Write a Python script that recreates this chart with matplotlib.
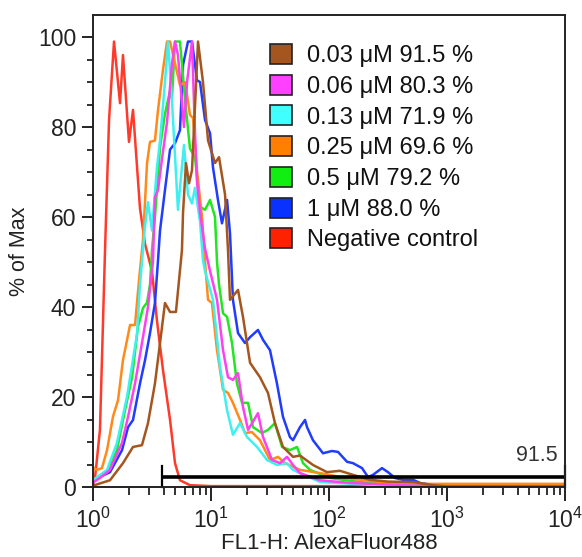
import numpy as np
import matplotlib
matplotlib.use("Agg")
import matplotlib.pyplot as plt
from matplotlib.patches import Patch
from matplotlib.ticker import LogLocator, MultipleLocator

plt.rcParams["font.family"] = ["Liberation Sans", "DejaVu Sans"]
plt.rcParams["mathtext.default"] = "regular"

# histogram traces: x in decades (log10 of FL1-H), y in % of max
red_x = [0.0, 0.017, 0.059, 0.102, 0.136, 0.178, 0.229, 0.254, 0.305, 0.339, 0.398,
         0.441, 0.500, 0.542, 0.593, 0.653, 0.695, 0.737, 0.822, 1.0, 4.0]
red_y = [0.5, 2, 12.7, 52.7, 81.6, 99, 85.3, 96, 76.7, 83.8, 62,
         54, 48, 37, 26, 14.9, 5.3, 1.5, 0.4, 0.2, 0.2]

blue_x = [0.0, 0.042, 0.144, 0.246, 0.297, 0.339, 0.398, 0.441, 0.483, 0.525, 0.551,
          0.568, 0.610, 0.653, 0.695, 0.737, 0.763, 0.805, 0.839, 0.881, 0.907, 0.949,
          0.992, 1.017, 1.059, 1.093, 1.136, 1.161, 1.186, 1.229, 1.288, 1.331, 1.398,
          1.441, 1.500, 1.559, 1.610, 1.669, 1.695, 1.754, 1.797, 1.814, 1.864, 1.949,
          2.025, 2.076, 2.153, 2.203, 2.280, 2.331, 2.373, 2.449, 2.500, 2.559, 2.627,
          2.712, 2.771, 2.941, 3.0, 4.0]
blue_y = [1, 2, 3.3, 8.2, 13.3, 14.9, 23, 28.2, 34.2, 40.9, 50.4,
          57, 66, 75, 76.4, 79.3, 93.8, 99, 99, 90.4, 90, 81.6,
          78.6, 71, 63.8, 58.6, 63.8, 56.4, 41.6, 34.2, 32, 33.3, 34.9,
          32.7, 30.4, 23, 15.6, 11.1, 10.4, 13.3, 14.9, 13.3, 10.4, 7.5,
          8, 7.8, 5.6, 5.3, 4.2, 2.2, 2.7, 4.2, 3.3, 2, 1.6,
          1.6, 0.9, 0.2, 0, 0]

green_x = [0.0, 0.042, 0.119, 0.203, 0.271, 0.331, 0.381, 0.424, 0.458, 0.483, 0.500,
           0.525, 0.568, 0.610, 0.653, 0.669, 0.695, 0.737, 0.780, 0.822, 0.864, 0.907,
           0.949, 0.992, 1.034, 1.051, 1.068, 1.102, 1.136, 1.178, 1.220, 1.263, 1.314,
           1.356, 1.432, 1.483, 1.542, 1.602, 1.669, 1.729, 1.780, 1.839, 2.008, 2.263,
           2.602, 3.0, 4.0]
green_y = [1.5, 2.2, 3.3, 8.2, 17, 24.4, 35.6, 39.8, 41, 45, 52.7,
           60, 75.5, 83, 88, 86.4, 99, 99, 86, 75.2, 73.4, 62.3,
           61.6, 63.8, 60, 50, 45, 38.6, 37.8, 32, 23, 18.7, 18.7,
           13.3, 12, 12.7, 14.2, 8.9, 8.2, 8.9, 5.3, 3.8, 2, 1.1,
           0.4, 0, 0]

orange_x = [0.0, 0.034, 0.076, 0.119, 0.169, 0.212, 0.254, 0.314, 0.356, 0.390, 0.424,
            0.458, 0.483, 0.525, 0.551, 0.593, 0.627, 0.653, 0.737, 0.780, 0.822, 0.847,
            0.881, 0.924, 0.949, 0.975, 1.008, 1.051, 1.102, 1.144, 1.186, 1.246, 1.288,
            1.347, 1.415, 1.500, 1.568, 1.627, 1.754, 1.924, 2.136, 2.432, 2.771, 3.0, 4.0]
orange_y = [4.4, 3.8, 4.2, 8.2, 15.6, 19.3, 28.2, 36, 36, 46, 55,
            72, 76.7, 77, 83.8, 92.7, 99, 99, 89.3, 90, 82.7, 82,
            70.4, 60, 50, 41.6, 40.9, 30.4, 21.6, 20.9, 18.7, 14.9, 12,
            12.2, 10.4, 6, 6.7, 5.3, 3.8, 3.1, 2, 1.1, 0.7, 0.7, 0.7]

cyan_x = [0.0, 0.034, 0.119, 0.203, 0.288, 0.373, 0.398, 0.424, 0.441, 0.466, 0.500,
          0.542, 0.568, 0.610, 0.636, 0.669, 0.720, 0.771, 0.805, 0.839, 0.864, 0.907,
          0.932, 0.949, 1.017, 1.076, 1.136, 1.186, 1.246, 1.305, 1.390, 1.475, 1.559,
          1.644, 1.695, 1.924, 2.432, 2.771, 3.0, 4.0]
cyan_y = [1.5, 2.2, 3.8, 9.8, 20, 34, 45, 52.7, 58, 63.3, 57,
          71, 77, 90, 99, 86, 61.6, 76, 65, 63, 66.5, 59,
          50.4, 48, 41.6, 26.7, 17.1, 11.6, 14.2, 11.1, 8.9, 6, 4.9,
          5.3, 3.8, 1.1, 0.4, 0.2, 0, 0]

magenta_x = [0.0, 0.059, 0.144, 0.246, 0.297, 0.356, 0.415, 0.466, 0.508, 0.525, 0.551,
             0.585, 0.627, 0.669, 0.695, 0.720, 0.771, 0.797, 0.839, 0.864, 0.881, 0.907,
             0.949, 0.992, 1.051, 1.102, 1.144, 1.186, 1.229, 1.271, 1.314, 1.398, 1.441,
             1.517, 1.585, 1.644, 1.695, 1.754, 1.924, 2.178, 2.602, 2.856, 3.0, 4.0]
magenta_y = [1, 2, 3.8, 9.8, 15.6, 23, 32, 40, 50, 64.4, 66,
             73, 81, 94, 99, 96, 80, 90, 99, 79, 68, 61,
             53, 48, 41.6, 30.4, 24.4, 23.8, 25.3, 17.8, 12.7, 16.4, 11.1,
             6, 5.3, 6.7, 4.9, 3.1, 1.5, 0.9, 0.4, 0.2, 0, 0]

brown_x = [0.0, 0.144, 0.254, 0.339, 0.415, 0.466, 0.525, 0.568, 0.610, 0.653, 0.703,
           0.754, 0.763, 0.788, 0.814, 0.839, 0.890, 0.932, 0.975, 1.034, 1.068, 1.119,
           1.144, 1.161, 1.229, 1.271, 1.331, 1.415, 1.483, 1.542, 1.610, 1.695, 1.754,
           1.864, 1.983, 2.093, 2.203, 2.347, 2.500, 2.712, 2.881, 3.0, 4.0]
brown_y = [0.3, 1.5, 5.3, 8.9, 9.3, 14.2, 23, 32, 40.9, 38.9, 38.9,
           52.7, 61, 72, 67.5, 70.4, 99, 90, 77, 72, 73.3, 65,
           52.7, 41.6, 43.8, 37.8, 27.6, 24.4, 20.9, 14.2, 8.9, 6.7, 7,
           4.9, 3.3, 3.6, 2.7, 1.6, 1.2, 1.1, 0.4, 0.1, 0.1]

labels = ["0.03 μM 91.5 %", "0.06 μM 80.3 %", "0.13 μM 71.9 %", "0.25 μM 69.6 %",
          "0.5 μM 79.2 %", "1 μM 88.0 %", "Negative control"]
line_colors = ["#a5561f", "#ff40f0", "#40f0f0", "#ff8a1a", "#22e622", "#1f3cff", "#ff3a2a"]
patch_colors = ["#a5561f", "#ff40ff", "#40ffff", "#ff8000", "#11ee11", "#0a32ff", "#ff2200"]

gate_lo, gate_hi, gate_y = 3.85, 1e4, 2.2
gate_label = "91.5"

series = [(brown_x, brown_y), (magenta_x, magenta_y), (cyan_x, cyan_y),
          (orange_x, orange_y), (green_x, green_y), (blue_x, blue_y), (red_x, red_y)]

fig = plt.figure(figsize=(5.82, 5.57), dpi=100)
ax = fig.add_axes([93 / 582, 70 / 557, 472 / 582, 472 / 557])

# draw control first, brown last (on top)
for (xs, ys), c in reversed(list(zip(series, line_colors))):
    ax.plot(10 ** np.array(xs), ys, color=c, lw=1.8, solid_joinstyle="round")

# gate marker
ax.plot([gate_lo, gate_hi], [gate_y, gate_y], color="black", lw=2.6, clip_on=False,
        solid_capstyle="butt")
ax.plot([gate_lo, gate_lo], [0, 4.7], color="black", lw=1.6, clip_on=False)
ax.plot([gate_hi, gate_hi], [0, 4.7], color="black", lw=1.6, clip_on=False)
ax.text(10 ** 3.94, 4.6, gate_label, ha="right", va="bottom", fontsize=15.5, color="#333333")

ax.set_xscale("log")
ax.set_xlim(1, 1e4)
ax.set_ylim(0, 104.9)
ax.xaxis.set_major_locator(LogLocator(base=10, numticks=10))
ax.xaxis.set_minor_locator(LogLocator(base=10, subs=np.arange(2, 10), numticks=10))
ax.yaxis.set_major_locator(MultipleLocator(20))
ax.yaxis.set_minor_locator(MultipleLocator(5))

for sp in ax.spines.values():
    sp.set_linewidth(1.4)
    sp.set_color("#222222")

ax.tick_params(axis="both", which="major", direction="out", width=1.4, color="#222222",
               labelsize=16.5, labelcolor="#222222")
ax.tick_params(axis="x", which="major", length=10, pad=5)
ax.tick_params(axis="x", which="minor", length=5.5, width=1.3, color="#222222")
ax.tick_params(axis="y", which="major", length=8, pad=4)
ax.tick_params(axis="y", which="minor", length=4.5, width=1.3, color="#222222")

ax.set_xlabel("FL1-H: AlexaFluor488", fontsize=16, color="#222222", labelpad=0)
ax.set_ylabel("% of Max", fontsize=15.5, color="#222222", labelpad=6)

handles = [Patch(facecolor=c, edgecolor="#222222", lw=1.2) for c in patch_colors]
leg = ax.legend(handles, labels, loc="upper left",
                bbox_to_anchor=(270 / 582, 1 - 44 / 557), bbox_transform=fig.transFigure,
                frameon=False, fontsize=17, handlelength=0.93, handleheight=0.93,
                handletextpad=0.62, labelspacing=0.32, borderpad=0, borderaxespad=0)
for t in leg.get_texts():
    t.set_color("#111111")

fig.savefig("out.png", dpi=100)
